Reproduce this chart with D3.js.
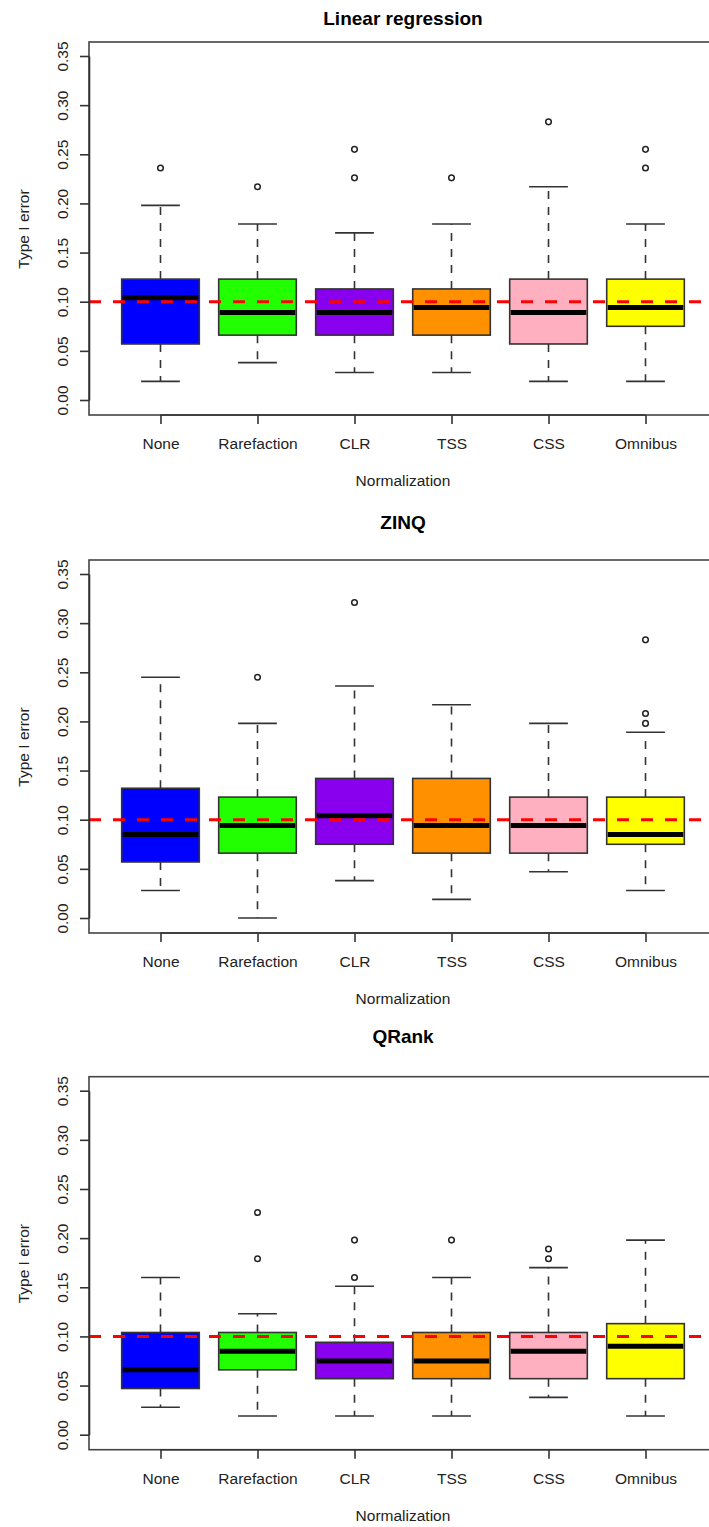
<!DOCTYPE html>
<html>
<head>
<meta charset="utf-8">
<script src="https://cdn.jsdelivr.net/npm/d3@7"></script>
<style>
	html, body { margin: 0; padding: 0; background: #fff; }
	svg { display: block; font-family: "Liberation Sans", Arial, sans-serif; }
</style>
</head>
<body>
<svg id="chart"></svg>
<script>
/**
 * Data
 */
const categories = [ 'None', 'Rarefaction', 'CLR', 'TSS', 'CSS', 'Omnibus' ];
const boxColors = [ '#0000ff', '#22ff00', '#8800ee', '#ff9000', '#ffb0c0', '#ffff00' ];
const yTicks = [ 0, 0.05, 0.10, 0.15, 0.20, 0.25, 0.30, 0.35 ];
const nominalLevel = 0.1;

// Linear regression
const lrLow = [ 0.019, 0.038, 0.028, 0.028, 0.019, 0.019 ];
const lrQ1 = [ 0.057, 0.066, 0.066, 0.066, 0.057, 0.075 ];
const lrMedian = [ 0.104, 0.089, 0.089, 0.094, 0.089, 0.094 ];
const lrQ3 = [ 0.123, 0.123, 0.113, 0.113, 0.123, 0.123 ];
const lrHigh = [ 0.198, 0.179, 0.170, 0.179, 0.217, 0.179 ];
const lrOutliers = [ [ 0.236 ], [ 0.217 ], [ 0.255, 0.226 ], [ 0.226 ], [ 0.283 ], [ 0.255, 0.236 ] ];

// ZINQ
const zinqLow = [ 0.028, 0.000, 0.038, 0.019, 0.047, 0.028 ];
const zinqQ1 = [ 0.057, 0.066, 0.075, 0.066, 0.066, 0.075 ];
const zinqMedian = [ 0.085, 0.094, 0.104, 0.094, 0.094, 0.085 ];
const zinqQ3 = [ 0.132, 0.123, 0.142, 0.142, 0.123, 0.123 ];
const zinqHigh = [ 0.245, 0.198, 0.236, 0.217, 0.198, 0.189 ];
const zinqOutliers = [ [], [ 0.245 ], [ 0.321 ], [], [], [ 0.283, 0.208, 0.198 ] ];

// QRank
const qrLow = [ 0.028, 0.019, 0.019, 0.019, 0.038, 0.019 ];
const qrQ1 = [ 0.047, 0.066, 0.057, 0.057, 0.057, 0.057 ];
const qrMedian = [ 0.066, 0.085, 0.075, 0.075, 0.085, 0.090 ];
const qrQ3 = [ 0.104, 0.104, 0.094, 0.104, 0.104, 0.113 ];
const qrHigh = [ 0.160, 0.123, 0.151, 0.160, 0.170, 0.198 ];
const qrOutliers = [ [], [ 0.226, 0.179 ], [ 0.198, 0.160 ], [ 0.198 ], [ 0.189, 0.179 ], [] ];

const panels = [
	{ title: 'Linear regression', low: lrLow, q1: lrQ1, median: lrMedian, q3: lrQ3, high: lrHigh, outliers: lrOutliers },
	{ title: 'ZINQ', low: zinqLow, q1: zinqQ1, median: zinqMedian, q3: zinqQ3, high: zinqHigh, outliers: zinqOutliers },
	{ title: 'QRank', low: qrLow, q1: qrQ1, median: qrMedian, q3: qrQ3, high: qrHigh, outliers: qrOutliers },
];

/**
 * Layout
 */
const width = 709;
const height = 1527;
const plotLeft = 89;
const plotRight = 717;
const panelTops = [ 42, 560, 1076.7 ];
const titleBaselines = [ 25, 529, 1043 ];
const stroke = '#333';
const labelFont = '15.5px';

const svg = d3.select( '#chart' )
	.attr( 'width', width )
	.attr( 'height', height );

const x = d3.scalePoint()
	.domain( categories )
	.range( [ plotLeft, plotRight ] )
	.padding( 0.737 );

const boxWidth = x.step() * 0.8;
const capWidth = boxWidth * 0.5;

panels.forEach( ( panel, p ) => {
	const top = panelTops[ p ];
	const bottom = top + 373;

	const y = d3.scaleLinear()
		.domain( [ 0, 0.35 ] )
		.range( [ top + 358, top + 14 ] );

	const g = svg.append( 'g' );

	svg.append( 'clipPath' )
		.attr( 'id', `clip-${ p }` )
		.append( 'rect' )
		.attr( 'x', plotLeft )
		.attr( 'y', top )
		.attr( 'width', plotRight - plotLeft )
		.attr( 'height', bottom - top );

	// title
	g.append( 'text' )
		.attr( 'x', ( plotLeft + plotRight ) / 2 )
		.attr( 'y', titleBaselines[ p ] )
		.attr( 'text-anchor', 'middle' )
		.style( 'font-size', '19px' )
		.style( 'font-weight', 'bold' )
		.text( panel.title );

	const rows = categories.map( ( c, i ) => ( {
		name: c,
		color: boxColors[ i ],
		low: panel.low[ i ],
		q1: panel.q1[ i ],
		median: panel.median[ i ],
		q3: panel.q3[ i ],
		high: panel.high[ i ],
		outliers: panel.outliers[ i ],
	} ) );

	const box = g.selectAll( '.box' )
		.data( rows )
		.join( 'g' )
		.attr( 'class', 'box' );

	// whiskers drawn from the box outwards
	box.append( 'line' )
		.attr( 'x1', ( d ) => x( d.name ) )
		.attr( 'x2', ( d ) => x( d.name ) )
		.attr( 'y1', ( d ) => y( d.q3 ) )
		.attr( 'y2', ( d ) => y( d.high ) )
		.attr( 'stroke', stroke )
		.attr( 'stroke-width', 1.6 )
		.attr( 'stroke-dasharray', '8,8' );

	box.append( 'line' )
		.attr( 'x1', ( d ) => x( d.name ) )
		.attr( 'x2', ( d ) => x( d.name ) )
		.attr( 'y1', ( d ) => y( d.q1 ) )
		.attr( 'y2', ( d ) => y( d.low ) )
		.attr( 'stroke', stroke )
		.attr( 'stroke-width', 1.6 )
		.attr( 'stroke-dasharray', '8,8' );

	[ 'high', 'low' ].forEach( ( key ) => {
		box.append( 'line' )
			.attr( 'x1', ( d ) => x( d.name ) - capWidth / 2 )
			.attr( 'x2', ( d ) => x( d.name ) + capWidth / 2 )
			.attr( 'y1', ( d ) => y( d[ key ] ) )
			.attr( 'y2', ( d ) => y( d[ key ] ) )
			.attr( 'stroke', stroke )
			.attr( 'stroke-width', 1.6 );
	} );

	box.append( 'rect' )
		.attr( 'x', ( d ) => x( d.name ) - boxWidth / 2 )
		.attr( 'y', ( d ) => y( d.q3 ) )
		.attr( 'width', boxWidth )
		.attr( 'height', ( d ) => y( d.q1 ) - y( d.q3 ) )
		.attr( 'fill', ( d ) => d.color )
		.attr( 'stroke', stroke )
		.attr( 'stroke-width', 1.6 );

	box.append( 'line' )
		.attr( 'x1', ( d ) => x( d.name ) - boxWidth / 2 + 1 )
		.attr( 'x2', ( d ) => x( d.name ) + boxWidth / 2 - 1 )
		.attr( 'y1', ( d ) => y( d.median ) )
		.attr( 'y2', ( d ) => y( d.median ) )
		.attr( 'stroke', '#000' )
		.attr( 'stroke-width', 5 );

	box.selectAll( 'circle' )
		.data( ( d ) => d.outliers.map( ( v ) => ( { name: d.name, v } ) ) )
		.join( 'circle' )
		.attr( 'cx', ( d ) => x( d.name ) )
		.attr( 'cy', ( d ) => y( d.v ) )
		.attr( 'r', 2.8 )
		.attr( 'fill', 'none' )
		.attr( 'stroke', '#222' )
		.attr( 'stroke-width', 1.5 );

	// nominal level
	g.append( 'line' )
		.attr( 'clip-path', `url(#clip-${ p })` )
		.attr( 'x1', plotLeft )
		.attr( 'x2', plotRight )
		.attr( 'y1', y( nominalLevel ) )
		.attr( 'y2', y( nominalLevel ) )
		.attr( 'stroke', '#ff0000' )
		.attr( 'stroke-width', 3 )
		.attr( 'stroke-dasharray', '12,12' );

	// frame
	g.append( 'rect' )
		.attr( 'x', plotLeft )
		.attr( 'y', top )
		.attr( 'width', plotRight - plotLeft )
		.attr( 'height', bottom - top )
		.attr( 'fill', 'none' )
		.attr( 'stroke', '#444' )
		.attr( 'stroke-width', 1.6 );

	// y axis
	const yAxis = g.append( 'g' )
		.attr( 'transform', `translate(${ plotLeft },0)` )
		.call( d3.axisLeft( y ).tickValues( yTicks ).tickFormat( d3.format( '.2f' ) ).tickSize( 9 ).tickSizeOuter( 0 ) );

	yAxis.selectAll( 'path, line' ).attr( 'stroke', stroke ).attr( 'stroke-width', 1.6 );
	yAxis.selectAll( 'text' )
		.attr( 'x', null )
		.attr( 'dy', null )
		.attr( 'text-anchor', 'middle' )
		.attr( 'transform', 'translate(-21,0) rotate(-90)' )
		.attr( 'fill', '#222' )
		.style( 'font-size', labelFont )
		.style( 'font-family', '"Liberation Sans", Arial, sans-serif' );

	// x axis
	const xAxis = g.append( 'g' )
		.attr( 'transform', `translate(0,${ bottom })` )
		.call( d3.axisBottom( x ).tickSize( 9 ).tickPadding( 14 ).tickSizeOuter( 0 ) );

	xAxis.select( '.domain' )
		.attr( 'd', `M${ x( categories[ 0 ] ) },0H${ x( categories[ categories.length - 1 ] ) }` );
	xAxis.selectAll( 'path, line' ).attr( 'stroke', stroke ).attr( 'stroke-width', 1.6 );
	xAxis.selectAll( 'text' )
		.attr( 'fill', '#222' )
		.style( 'font-size', labelFont )
		.style( 'font-family', '"Liberation Sans", Arial, sans-serif' );

	// axis titles
	g.append( 'text' )
		.attr( 'x', ( plotLeft + plotRight ) / 2 )
		.attr( 'y', top + 444 )
		.attr( 'text-anchor', 'middle' )
		.attr( 'fill', '#222' )
		.style( 'font-size', labelFont )
		.text( 'Normalization' );

	g.append( 'text' )
		.attr( 'transform', `translate(29,${ top + 187 }) rotate(-90)` )
		.attr( 'text-anchor', 'middle' )
		.attr( 'fill', '#222' )
		.style( 'font-size', labelFont )
		.text( 'Type I error' );
} );
</script>
</body>
</html>
